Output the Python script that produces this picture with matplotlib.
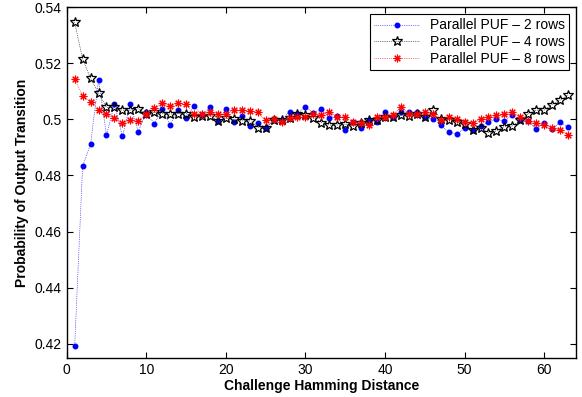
import numpy as np
import matplotlib
matplotlib.use('Agg')
import matplotlib.pyplot as plt

plt.rcParams['font.family'] = ['Liberation Sans', 'DejaVu Sans']

# Challenge Hamming distance 1..63
dist = np.arange(1, 64)

puf_2rows = [0.419, 0.4833, 0.4912, 0.514, 0.4944, 0.5056, 0.494, 0.5056, 0.4956, 0.5027,
             0.4983, 0.5037, 0.498, 0.5035, 0.5006, 0.5047, 0.5015, 0.5044, 0.4995, 0.5036,
             0.499, 0.5013, 0.4976, 0.4988, 0.4968, 0.5, 0.4998, 0.5028, 0.5021, 0.5045,
             0.5022, 0.5036, 0.5006, 0.5012, 0.4962, 0.4992, 0.497, 0.4998, 0.499, 0.5025,
             0.5009, 0.5027, 0.5025, 0.5027, 0.5009, 0.5, 0.498, 0.4955, 0.4948, 0.4968,
             0.4962, 0.4976, 0.499, 0.5001, 0.4994, 0.5015, 0.4998, 0.4994, 0.4965, 0.4988,
             0.4965, 0.499, 0.4974]

puf_4rows = [0.5346, 0.5215, 0.5147, 0.5093, 0.5043, 0.5043, 0.5033, 0.5033, 0.5037, 0.5021,
             0.5026, 0.5021, 0.5019, 0.5021, 0.5021, 0.5009, 0.5013, 0.5013, 0.4995, 0.5004,
             0.5, 0.4995, 0.4995, 0.4971, 0.4968, 0.4997, 0.4997, 0.5006, 0.5021, 0.5015,
             0.5006, 0.4989, 0.498, 0.498, 0.4983, 0.4977, 0.4986, 0.4997, 0.4997, 0.5009,
             0.5009, 0.5015, 0.5012, 0.5021, 0.5009, 0.5033, 0.5002, 0.4998, 0.4991, 0.4982,
             0.4962, 0.4968, 0.4953, 0.4959, 0.4974, 0.4976, 0.4997, 0.502, 0.5033, 0.5033,
             0.5053, 0.5069, 0.5087]

puf_8rows = [0.5144, 0.5085, 0.5061, 0.5033, 0.502, 0.5004, 0.4988, 0.4998, 0.4995, 0.5018,
             0.5039, 0.5058, 0.5047, 0.5057, 0.5054, 0.5021, 0.5018, 0.5027, 0.5021, 0.5019,
             0.5033, 0.5033, 0.5031, 0.5025, 0.4997, 0.5, 0.4991, 0.5004, 0.5009, 0.5009,
             0.502, 0.5015, 0.5027, 0.5009, 0.5009, 0.4991, 0.4986, 0.498, 0.5009, 0.5009,
             0.5015, 0.5045, 0.5021, 0.5018, 0.5025, 0.5021, 0.4999, 0.5009, 0.5, 0.4991,
             0.4988, 0.5, 0.5009, 0.5015, 0.5021, 0.5025, 0.5009, 0.4994, 0.4988, 0.498,
             0.4968, 0.4962, 0.4944]

fig = plt.figure(figsize=(5.82, 3.97), dpi=100)
ax = fig.add_axes([0.1146, 0.099, 0.8751, 0.8826])

ax.plot(dist, puf_2rows, ':', color='blue', lw=0.5, marker='.', markersize=6.5,
        label='Parallel PUF \u2013 2 rows')
ax.plot(dist, puf_4rows, ':', color='black', lw=0.5, marker='*', markersize=7,
        markerfacecolor='none', markeredgecolor='black', markeredgewidth=0.9,
        label='Parallel PUF \u2013 4 rows')
ax.plot(dist, puf_8rows, ':', color='red', lw=0.5, marker=(8, 2, 0), markersize=5.5,
        markeredgewidth=0.8, label='Parallel PUF \u2013 8 rows')

ax.set_xlim(0, 64)
ax.set_ylim(0.415, 0.54)
ax.set_xticks([0, 10, 20, 30, 40, 50, 60])
ax.set_yticks([0.42, 0.44, 0.46, 0.48, 0.5, 0.52, 0.54])
ax.set_yticklabels(['0.42', '0.44', '0.46', '0.48', '0.5', '0.52', '0.54'])
ax.tick_params(direction='in', top=True, right=True, length=4, width=0.8, labelsize=10)
for s in ax.spines.values():
    s.set_linewidth(1.0)

ax.set_xlabel('Challenge Hamming Distance', fontsize=10, fontweight='bold', labelpad=2)
ax.set_ylabel('Probability of Output Transition', fontsize=10, fontweight='bold', labelpad=4)

leg = ax.legend(loc='upper right', fontsize=10, fancybox=False, framealpha=1,
                edgecolor='black', borderpad=0.3, labelspacing=0.2, handlelength=3.2,
                borderaxespad=0.5)
leg.get_frame().set_linewidth(0.8)

plt.savefig('out.png', dpi=100)
